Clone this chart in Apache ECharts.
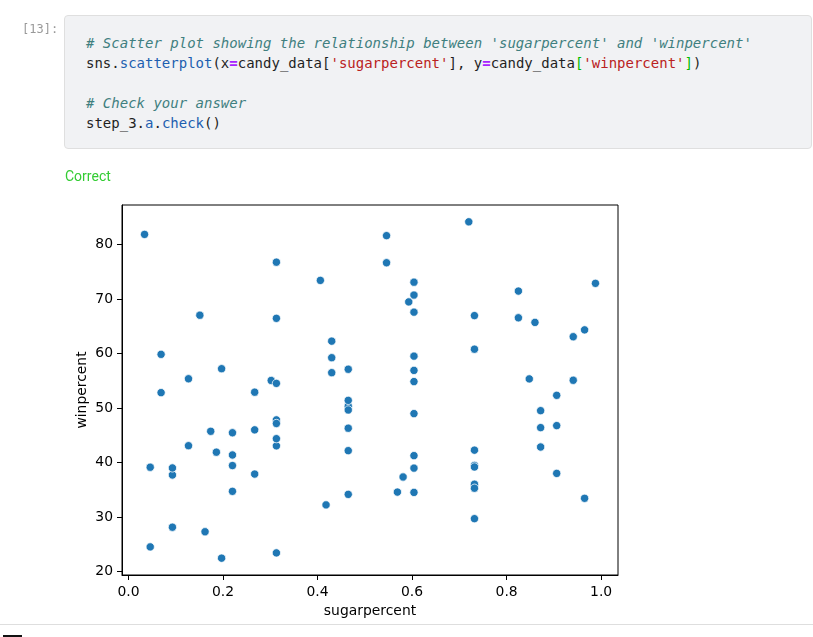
<!DOCTYPE html>
<html>
<head>
<meta charset="utf-8">
<script src="https://cdn.jsdelivr.net/npm/echarts@6/dist/echarts.min.js"></script>
<style>
  html, body { margin: 0; padding: 0; background: #fff; width: 813px; height: 637px; overflow: hidden; }
  #chart { position: absolute; left: 0; top: 0; width: 813px; height: 637px; }
  #prompt { position: absolute; left: 22px; top: 21px; font-family: "DejaVu Sans Mono", monospace; font-size: 12px; color: #999; line-height: 16px; }
  #cell { position: absolute; left: 64px; top: 15px; width: 746px; height: 132px; background: #f1f2f4; border: 1px solid #dfdfdf; border-radius: 4px; box-sizing: content-box; }
  #cell pre { margin: 0; position: absolute; left: 21px; top: 17px; font-family: "DejaVu Sans Mono", monospace; font-size: 14px; line-height: 20px; color: #1f1f1f; }
  .cm { color: #3f7f7f; font-style: italic; }
  .pr { color: #1d5fb0; }
  .op { color: #a822ff; font-weight: bold; }
  .st { color: #ba2121; }
  .mb { color: #0b0; }
  #correct { position: absolute; left: 65px; top: 167px; font-family: Roboto, "Noto Sans", sans-serif; font-size: 14px; color: #33cc33; line-height: 18px; }
  #rule { position: absolute; left: 0; top: 624px; width: 813px; height: 1px; background: #dedede; }
  #blk { position: absolute; left: 3px; top: 635px; width: 19px; height: 2px; background: #111; }
</style>
</head>
<body>
<div id="chart"></div>
<div id="prompt">[13]:</div>
<div id="cell"><pre><span class="cm"># Scatter plot showing the relationship between 'sugarpercent' and 'winpercent'</span>
sns.<span class="pr">scatterplot</span>(x<span class="op">=</span>candy_data[<span class="st">'sugarpercent'</span>], y<span class="op">=</span>candy_data<span class="mb">[</span><span class="st">'winpercent'</span><span class="mb">]</span>)

<span class="cm"># Check your answer</span>
step_3.<span class="pr">a</span>.<span class="pr">check</span>()</pre></div>
<div id="correct">Correct</div>
<div id="rule"></div>
<div id="blk"></div>
<script>
// Candy names (for reference), sugar percentile and win percentage
const candyNames = [
  "100 Grand","3 Musketeers","Air Heads","Almond Joy","Baby Ruth","Boston Baked Beans","Candy Corn",
  "Caramel Apple Pops","Charleston Chew","Chewey Lemonhead Fruit Mix","Chiclets","Dots","Dum Dums",
  "Fruit Chews","Fun Dip","Gobstopper","Haribo Gold Bears","Haribo Happy Cola","Haribo Sour Bears",
  "Haribo Twin Snakes","Hershey's Kisses","Hershey's Krackel","Hershey's Milk Chocolate",
  "Hershey's Special Dark","Jawbusters","Junior Mints","Kit Kat","Laffy Taffy","Lemonhead",
  "Lifesavers big ring gummies","Peanut butter M&M's","M&M's","Mike & Ike","Milk Duds","Milky Way",
  "Milky Way Midnight","Milky Way Simply Caramel","Mounds","Mr Good Bar","Nerds","Nestle Butterfinger",
  "Nestle Crunch","Nik L Nip","Now & Later","Payday","Peanut M&Ms","Pixie Sticks","Pop Rocks",
  "Red vines","Reese's Miniatures","Reese's Peanut Butter cup","Reese's pieces",
  "Reese's stuffed with pieces","Ring pop","Rolo","Root Beer Barrels","Runts","Sixlets",
  "Skittles original","Skittles wildberry","Nestle Smarties","Smarties candy","Snickers",
  "Snickers Crisper","Sour Patch Kids","Sour Patch Tricksters","Starburst","Strawberry bon bons",
  "Sugar Babies","Sugar Daddy","Super Bubble","Swedish Fish","Tootsie Pop","Tootsie Roll Juniors",
  "Tootsie Roll Midgies","Tootsie Roll Snack Bars","Trolli Sour Bites","Twix","Twizzlers","Warheads",
  "Welch's Fruit Snacks","Werther's Original Caramel","Whoppers"
];
const sugarpercent = [
  0.732,0.604,0.906,0.465,0.604,0.313,0.906,
  0.604,0.604,0.732,0.046,0.732,0.732,
  0.127,0.732,0.906,0.465,0.465,0.465,
  0.465,0.127,0.430,0.430,
  0.430,0.093,0.197,0.313,0.220,0.046,
  0.267,0.825,0.825,0.872,0.302,0.604,
  0.732,0.965,0.313,0.313,0.848,0.604,
  0.313,0.197,0.220,0.465,0.593,0.093,0.604,
  0.581,0.034,0.720,0.406,
  0.988,0.732,0.860,0.732,0.872,0.220,
  0.941,0.941,0.267,0.267,0.546,
  0.604,0.069,0.069,0.151,0.569,
  0.965,0.418,0.162,0.604,0.604,0.313,
  0.174,0.465,0.313,0.546,0.220,0.093,
  0.313,0.186,0.872
];
const winpercent = [
  66.97,67.60,52.34,50.35,56.91,23.42,38.01,
  34.52,38.98,36.02,24.52,42.27,39.46,
  43.09,39.19,46.78,57.12,34.16,51.41,
  42.18,55.38,62.28,56.49,
  59.24,28.13,57.22,76.77,41.39,39.14,
  52.91,71.47,66.57,46.41,55.06,73.10,
  60.80,64.35,47.83,54.53,55.35,70.74,
  66.47,22.45,39.45,46.30,69.48,37.72,41.27,
  37.35,81.87,84.18,73.43,
  72.89,35.29,65.72,29.70,42.85,34.72,
  63.09,55.10,37.89,46.00,76.67,
  59.53,59.86,52.83,67.04,34.58,
  33.44,32.23,27.30,54.86,48.98,43.07,
  45.74,49.65,47.17,81.64,45.47,39.01,
  44.38,41.90,49.52
];
const xTicks = [0.0, 0.2, 0.4, 0.6, 0.8, 1.0];
const yTicks = [20, 30, 40, 50, 60, 70, 80];

const points = sugarpercent.map((s, i) => [s, winpercent[i]]);

function padRange(arr) {
  const lo = Math.min(...arr), hi = Math.max(...arr), m = (hi - lo) * 0.05;
  return [lo - m, hi + m];
}
const xr = padRange(sugarpercent), yr = padRange(winpercent);

const font = "DejaVu Sans";
const chart = echarts.init(document.getElementById('chart'), null, { renderer: 'canvas' });
chart.setOption({
  animation: false,
  backgroundColor: 'transparent',
  grid: { left: 122, top: 205, width: 496, height: 370, show: true, borderColor: '#000', borderWidth: 1, backgroundColor: '#fff' },
  xAxis: {
    type: 'value', min: xr[0], max: xr[1],
    name: 'sugarpercent', nameLocation: 'middle', nameGap: 29,
    nameTextStyle: { fontFamily: font, fontSize: 13.9, color: '#000' },
    axisLine: { show: true, onZero: false, lineStyle: { color: '#000', width: 1 } },
    axisTick: { show: true, length: 5, inside: false, lineStyle: { color: '#000', width: 1 }, customValues: xTicks },
    axisLabel: { customValues: xTicks, margin: 10, fontFamily: font, fontSize: 13.9, color: '#000', formatter: v => Number(v).toFixed(1) },
    splitLine: { show: false }
  },
  yAxis: {
    type: 'value', min: yr[0], max: yr[1],
    name: 'winpercent', nameLocation: 'middle', nameGap: 33, nameRotate: 90, nameMoveOverlap: false,
    nameTextStyle: { fontFamily: font, fontSize: 13.9, color: '#000' },
    axisLine: { show: true, onZero: false, lineStyle: { color: '#000', width: 1 } },
    axisTick: { show: true, length: 5, inside: false, lineStyle: { color: '#000', width: 1 }, customValues: yTicks },
    axisLabel: { customValues: yTicks, margin: 9, fontFamily: font, fontSize: 13.9, color: '#000', formatter: v => String(Math.round(v)) },
    splitLine: { show: false }
  },
  series: [{
    type: 'scatter',
    data: points,
    symbol: 'circle',
    symbolSize: 8.3,
    itemStyle: { color: '#1f77b4', borderColor: '#fff', borderWidth: 0.75, opacity: 1 }
  }]
});
</script>
</body>
</html>
